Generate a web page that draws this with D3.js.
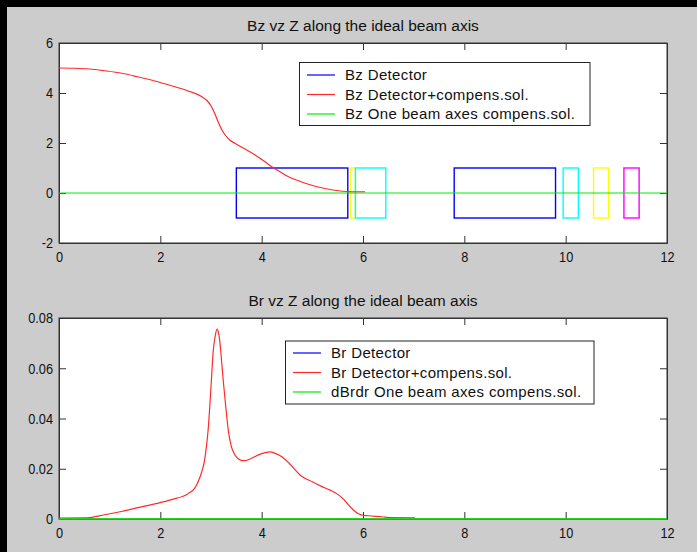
<!DOCTYPE html>
<html><head><meta charset="utf-8">
<script src="https://cdn.jsdelivr.net/npm/d3@7"></script>
<style>
html,body{margin:0;padding:0;background:#000;}
svg{display:block;font-family:"Liberation Sans",Arial,sans-serif;}
</style></head>
<body>
<svg id="chart" width="697" height="552"></svg>
<script>
// ---------- data ----------
const xTicks = [0, 2, 4, 6, 8, 10, 12];
const yTicksTop = [-2, 0, 2, 4, 6];
const yTicksBottom = [0, 0.02, 0.04, 0.06, 0.08];
const yTickLabelsBottom = ["0", "0.02", "0.04", "0.06", "0.08"];

const titleTop = "Bz vz Z along the ideal beam axis";
const titleBottom = "Br vz Z along the ideal beam axis";
const legendTop = ["Bz Detector", "Bz Detector+compens.sol.", "Bz One beam axes compens.sol."];
const legendBottom = ["Br Detector", "Br Detector+compens.sol.", "dBrdr One beam axes compens.sol."];
const legendColors = ["#0000ff", "#ff2a2a", "#00ee00"];

// Bz (detector + compensating solenoid)
const bzZ = [0, 0.3, 0.6, 0.9, 1.24, 1.55, 1.89, 2.2, 2.55, 2.82, 2.92, 3.01, 3.08, 3.14, 3.2, 3.28, 3.37, 3.47, 3.67, 3.87, 4.03, 4.2, 4.37, 4.53, 4.7, 4.86, 5.02, 5.18, 5.35, 5.51, 5.7, 5.85, 6.04];
const bzVal = [5.0, 4.99, 4.96, 4.89, 4.79, 4.65, 4.48, 4.3, 4.08, 3.85, 3.7, 3.45, 3.15, 2.85, 2.58, 2.32, 2.12, 1.99, 1.76, 1.52, 1.3, 1.05, 0.84, 0.65, 0.51, 0.39, 0.29, 0.21, 0.14, 0.09, 0.06, 0.05, 0.05];

// Br (detector + compensating solenoid)
const brZ = [0, 0.55, 0.9, 1.23, 1.55, 1.89, 2.22, 2.55, 2.68, 2.75, 2.81, 2.87, 2.91, 2.95, 2.98, 3.01, 3.04, 3.08, 3.12, 3.15, 3.17, 3.2, 3.24, 3.29, 3.34, 3.4, 3.47, 3.55, 3.64, 3.75, 3.87, 4.0, 4.16, 4.28, 4.39, 4.55, 4.79, 5.0, 5.18, 5.35, 5.51, 5.62, 5.71, 5.8, 5.91, 6.0, 6.1, 6.4, 6.5, 7.03];
const brVal = [0.0004, 0.0005, 0.0017, 0.003, 0.0045, 0.006, 0.0077, 0.0101, 0.0123, 0.015, 0.0183, 0.023, 0.0289, 0.037, 0.0462, 0.056, 0.066, 0.0725, 0.0756, 0.074, 0.0714, 0.065, 0.0554, 0.045, 0.0355, 0.029, 0.0256, 0.0238, 0.0232, 0.0237, 0.0249, 0.026, 0.0267, 0.026, 0.0249, 0.022, 0.017, 0.0148, 0.013, 0.0115, 0.0097, 0.0078, 0.0057, 0.0038, 0.0021, 0.0015, 0.0013, 0.0008, 0.0006, 0.0005];

// one-beam-axis compensating solenoid (flat zero)
const flatZ = [0, 12];
const flatVal = [0, 0];

// coil / detector outlines on top plot
const coilZ0 = [3.5, 5.75, 5.85, 7.8, 9.95, 10.55, 11.15];
const coilZ1 = [5.7, 5.85, 6.45, 9.8, 10.25, 10.85, 11.45];
const coilY0 = [-1, -1, -1, -1, -1, -1, -1];
const coilY1 = [1, 1, 1, 1, 1, 1, 1];
const coilColors = ["#0000ff", "#ffff00", "#00ffff", "#0000ff", "#00ffff", "#ffff00", "#ff00ff"];

// ---------- drawing ----------
const svg = d3.select("#chart");
svg.append("rect").attr("x", 7).attr("y", 7).attr("width", 690).attr("height", 545).attr("fill", "#cccccc");

const L = 59, R = 667;
const axisColor = "#333";
const textColor = "#111";
const SX = 0.85;

function panel(top, bottom, yDomain, yTicks, yLabels, title, legend, legendBox) {
  const x = d3.scaleLinear().domain([0, 12]).range([L, R]);
  const y = d3.scaleLinear().domain(yDomain).range([bottom, top]);
  const g = svg.append("g");
  g.append("rect").attr("x", L).attr("y", top).attr("width", R - L).attr("height", bottom - top)
    .attr("fill", "#fff").attr("stroke", axisColor).attr("stroke-width", 1);

  const clip = "clip" + Math.round(top);
  svg.append("clipPath").attr("id", clip).append("rect").attr("x", L).attr("y", top).attr("width", R - L + 0.5).attr("height", bottom - top + 1.5);

  // axes
  const ab = g.append("g").attr("transform", `translate(0,${bottom})`)
    .call(d3.axisBottom(x).tickValues(xTicks).tickSize(-7).tickSizeOuter(0).tickPadding(8).tickFormat(d => String(d)));
  const at = g.append("g").attr("transform", `translate(0,${top})`)
    .call(d3.axisTop(x).tickValues(xTicks).tickSize(-7).tickSizeOuter(0).tickFormat(""));
  const al = g.append("g").attr("transform", `translate(${L},0)`)
    .call(d3.axisLeft(y).tickValues(yTicks).tickSize(-7).tickSizeOuter(0).tickPadding(6 / SX).tickFormat((d, i) => yLabels[i]));
  const ar = g.append("g").attr("transform", `translate(${R},0)`)
    .call(d3.axisRight(y).tickValues(yTicks).tickSize(-7).tickSizeOuter(0).tickFormat(""));
  [ab, at, al, ar].forEach(a => {
    a.attr("font-family", null).attr("font-size", null);
    a.selectAll("line").attr("stroke", axisColor);
    a.select(".domain").attr("stroke", axisColor);
    a.selectAll("text").attr("fill", textColor).attr("font-size", 15).attr("transform", `scale(${SX},1)`);
  });

  const plot = g.append("g").attr("clip-path", `url(#${clip})`);

  // title
  g.append("text").attr("x", (L + R) / 2).attr("y", top - 12).attr("text-anchor", "middle")
    .attr("font-size", 15.5).attr("fill", textColor).text(title);

  // legend
  const lg = svg.append("g");
  lg.append("rect").attr("x", legendBox.x).attr("y", legendBox.y).attr("width", legendBox.w).attr("height", legendBox.h)
    .attr("fill", "#fff").attr("stroke", "#222").attr("stroke-width", 1);
  legend.forEach((t, i) => {
    const cy = legendBox.rowY[i];
    lg.append("line").attr("x1", legendBox.lx0).attr("x2", legendBox.lx1).attr("y1", cy).attr("y2", cy)
      .attr("stroke", legendColors[i]).attr("stroke-width", 1.2);
    lg.append("text").attr("x", legendBox.tx).attr("y", cy).attr("dy", "0.36em").attr("font-size", 15)
      .attr("letter-spacing", "0.35px").attr("fill", textColor).text(t);
  });

  return { x, y, plot, g, lg };
}

const P1 = panel(43, 243, [-2, 6], yTicksTop, yTicksTop.map(String), titleTop, legendTop,
  { x: 299.5, y: 62.5, w: 290.5, h: 63, lx0: 307, lx1: 335, tx: 345, rowY: [75, 94.5, 114] });
const P2 = panel(318, 519, [0, 0.08], yTicksBottom, yTickLabelsBottom, titleBottom, legendBottom,
  { x: 285.5, y: 341, w: 308.5, h: 63, lx0: 293, lx1: 321, tx: 331, rowY: [353, 372.5, 392] });

// top panel marks
P1.plot.selectAll("rect.coil").data(coilZ0).join("rect").attr("class", "coil")
  .attr("x", (d, i) => P1.x(coilZ0[i])).attr("y", (d, i) => P1.y(coilY1[i]))
  .attr("width", (d, i) => P1.x(coilZ1[i]) - P1.x(coilZ0[i]))
  .attr("height", (d, i) => P1.y(coilY0[i]) - P1.y(coilY1[i]))
  .attr("fill", "none").attr("stroke", (d, i) => coilColors[i]).attr("stroke-width", 1.4);

const line1 = d3.line().x(d => P1.x(d[0])).y(d => P1.y(d[1])).curve(d3.curveMonotoneX);
P1.plot.append("path").attr("d", line1(d3.zip(flatZ, flatVal))).attr("fill", "none").attr("stroke", "#00ee00").attr("stroke-width", 1.2);
P1.plot.append("path").attr("d", line1(d3.zip(bzZ, bzVal))).attr("fill", "none").attr("stroke", "#ff2a2a").attr("stroke-width", 1.2);

// bottom panel marks
const line2 = d3.line().x(d => P2.x(d[0])).y(d => P2.y(d[1])).curve(d3.curveMonotoneX);
P2.plot.append("path").attr("d", line2(d3.zip(brZ, brVal))).attr("fill", "none").attr("stroke", "#ff2a2a").attr("stroke-width", 1.2);
P2.plot.append("path").attr("d", line2(d3.zip(flatZ, flatVal))).attr("fill", "none").attr("stroke", "#00ee00").attr("stroke-width", 1.4);

// legends on top
svg.node().appendChild(P1.lg.node());
svg.node().appendChild(P2.lg.node());
</script>
</body></html>
